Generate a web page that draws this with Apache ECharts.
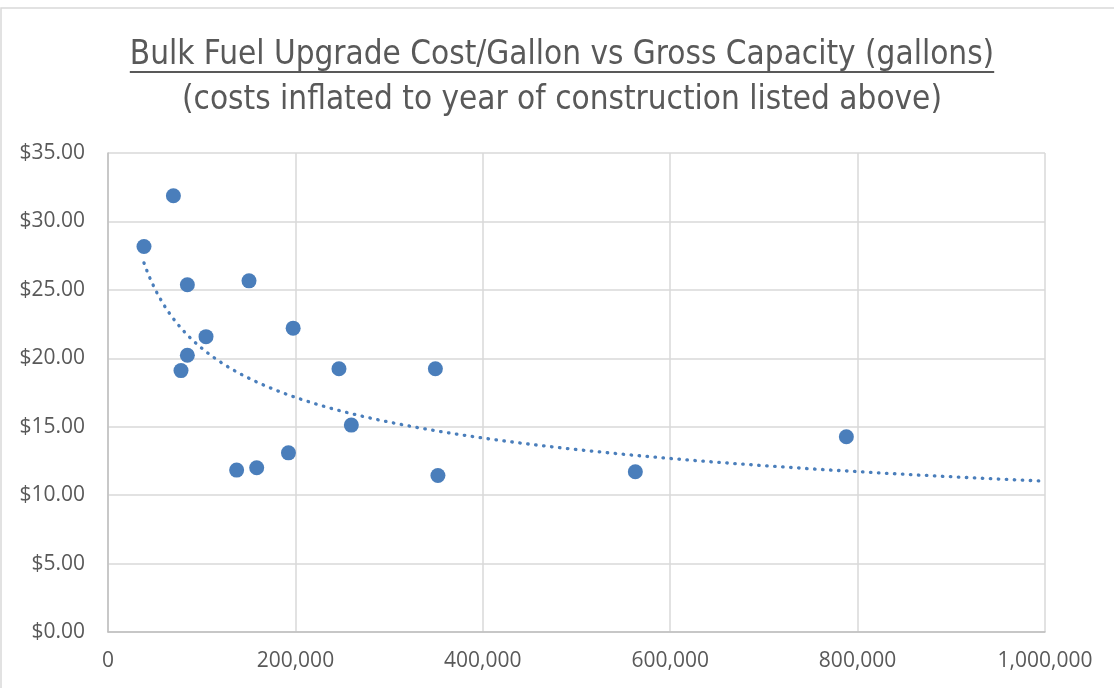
<!DOCTYPE html>
<html><head><meta charset="utf-8">
<script src="https://cdn.jsdelivr.net/npm/echarts@6/dist/echarts.min.js"></script>
<style>html,body{margin:0;padding:0;background:#fff}#c{width:1114px;height:688px}</style>
</head><body><div id="c"></div>
<script>
const titleText = 'Bulk Fuel Upgrade Cost/Gallon vs Gross Capacity (gallons)';
const subtitleText = '(costs inflated to year of construction listed above)';
// Gross capacity (gallons)
const capacity = [38400, 69800, 84700, 150500, 197600, 104600, 84700, 77900, 192600, 137300, 158700, 246500, 349400, 259700, 352100, 562800, 788000];
// Cost per gallon ($)
const costPerGallon = [28.17, 31.88, 25.37, 25.66, 22.20, 21.58, 20.22, 19.10, 13.09, 11.83, 12.00, 19.24, 19.24, 15.12, 11.44, 11.71, 14.27];
const xMin = 0, xMax = 1000000, xStep = 200000;
const yMin = 0, yMax = 35, yStep = 5;

// Power trendline (least squares in log-log space, as Excel does)
function powerFit(xs, ys) {
  const n = xs.length;
  const lx = xs.map(Math.log), ly = ys.map(Math.log);
  const mx = lx.reduce((a, b) => a + b, 0) / n, my = ly.reduce((a, b) => a + b, 0) / n;
  let sxy = 0, sxx = 0;
  for (let i = 0; i < n; i++) { sxy += (lx[i] - mx) * (ly[i] - my); sxx += (lx[i] - mx) ** 2; }
  const b = sxy / sxx, a = Math.exp(my - b * mx);
  return x => a * Math.pow(x, b);
}
const fit = powerFit(capacity, costPerGallon);
const tStart = Math.min(...capacity), tEnd = xMax, nT = 300;
const trend = [];
for (let i = 0; i <= nT; i++) { const x = tStart + (tEnd - tStart) * i / nT; trend.push([x, fit(x)]); }

const titleFont = '"Liberation Sans Narrow", "DejaVu Sans Condensed", sans-serif';
const titleSize = 33;
const ctx = document.createElement('canvas').getContext('2d');
ctx.font = titleSize + 'px ' + titleFont;
const tw = ctx.measureText(titleText).width;
const cx = 562;

const chart = echarts.init(document.getElementById('c'), null, { renderer: 'canvas' });
chart.setOption({
  animation: false,
  backgroundColor: '#fff',
  grid: { left: 108, right: 69, top: 153, bottom: 56, containLabel: false },
  graphic: [
    { type: 'rect', silent: true, z: -10, shape: { x: 1, y: 8, width: 1300, height: 900 }, style: { fill: 'none', stroke: '#d9d9d9', lineWidth: 1.5 } },
    { type: 'text', x: cx, y: 55, style: { text: titleText, font: titleSize + 'px ' + titleFont, fill: '#595959', textAlign: 'center', textVerticalAlign: 'middle' } },
    { type: 'line', shape: { x1: cx - tw / 2, y1: 72, x2: cx + tw / 2, y2: 72 }, style: { stroke: '#595959', lineWidth: 2 } },
    { type: 'text', x: cx, y: 100, style: { text: subtitleText, font: titleSize + 'px ' + titleFont, fill: '#595959', textAlign: 'center', textVerticalAlign: 'middle' } }
  ],
  xAxis: {
    type: 'value', min: xMin, max: xMax, interval: xStep,
    axisLine: { show: true, lineStyle: { color: '#bfbfbf', width: 1.5 } },
    axisTick: { show: false },
    splitLine: { show: true, lineStyle: { color: '#d9d9d9', width: 1.5 } },
    axisLabel: { color: '#595959', fontSize: 21, fontFamily: '"Open Sans", sans-serif', margin: 19,
      formatter: v => v.toLocaleString('en-US') }
  },
  yAxis: {
    type: 'value', min: yMin, max: yMax, interval: yStep,
    axisLine: { show: true, lineStyle: { color: '#bfbfbf', width: 1.5 } },
    axisTick: { show: false },
    splitLine: { show: true, lineStyle: { color: '#d9d9d9', width: 1.5 } },
    axisLabel: { color: '#595959', fontSize: 21, fontFamily: '"Open Sans", sans-serif', margin: 23,
      formatter: v => '$' + v.toFixed(2) }
  },
  series: [
    { type: 'line', data: trend, showSymbol: false, symbol: 'none', z: 2,
      lineStyle: { color: '#4a7ebb', width: 3.3, type: [0.5, 7.5], cap: 'round' } },
    { type: 'scatter', data: capacity.map((x, i) => [x, costPerGallon[i]]), symbolSize: 15, z: 3,
      itemStyle: { color: '#4a7ebb', opacity: 1 } }
  ]
});
</script></body></html>
